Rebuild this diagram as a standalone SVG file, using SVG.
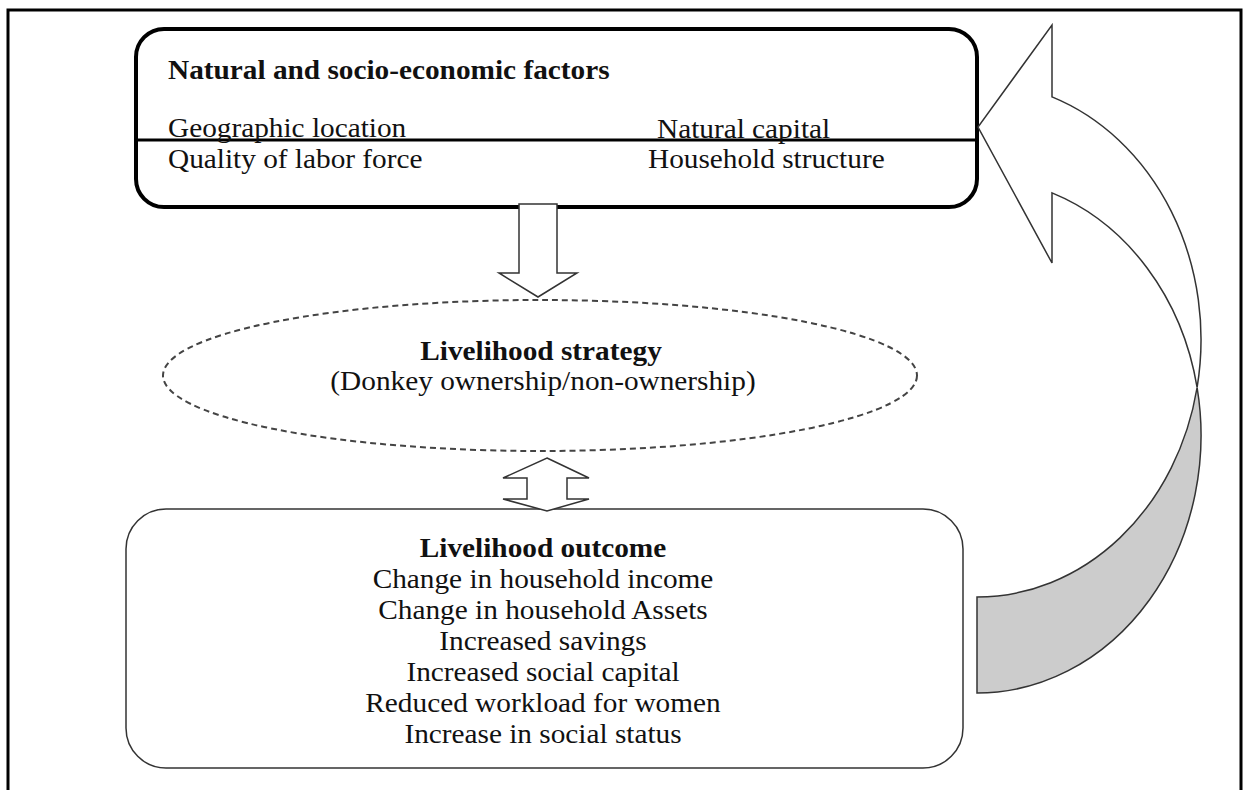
<svg xmlns="http://www.w3.org/2000/svg" width="1244" height="790" viewBox="0 0 1244 790">
<style>
  .t { font-family: "Liberation Serif", "Times New Roman", serif; font-size: 27px; fill: #111; }
  .b { font-weight: bold; }
  .c { text-anchor: middle; }
  .blk { fill: #fff; stroke: #333; stroke-width: 1.5; stroke-linejoin: miter; }
</style>
<rect x="0" y="0" width="1244" height="790" fill="#fff"/>
<path id="frame" d="M8,790 V10 H1241 V790" fill="none" stroke="#000" stroke-width="3"/>

<g id="factors">
  <rect x="136" y="29" width="841" height="178" rx="28" ry="28" fill="#fff" stroke="#000" stroke-width="4"/>
  <line x1="136" y1="140" x2="977" y2="140" stroke="#000" stroke-width="3"/>
  <text class="t b" transform="translate(168,79) scale(1.085,1)">Natural and socio-economic factors</text>
  <text class="t" transform="translate(168,137) scale(1.085,1)">Geographic location</text>
  <text class="t" transform="translate(657,138) scale(1.085,1)">Natural capital</text>
  <text class="t" transform="translate(168,168) scale(1.085,1)">Quality of labor force</text>
  <text class="t" transform="translate(648,168) scale(1.085,1)">Household structure</text>
</g>

<g id="strategy">
  <ellipse cx="540" cy="375.5" rx="377" ry="75.5" fill="none" stroke="#444" stroke-width="2" stroke-dasharray="6 4"/>
  <text class="t b c" transform="translate(541,360) scale(1.085,1)">Livelihood strategy</text>
  <text class="t c" transform="translate(543,390) scale(1.085,1)">(Donkey ownership/non-ownership)</text>
</g>

<g id="outcome">
  <rect x="126" y="509" width="837" height="259" rx="40" ry="40" fill="#fff" stroke="#333" stroke-width="1.5"/>
  <text class="t b c" transform="translate(543,557) scale(1.085,1)">Livelihood outcome</text>
  <text class="t c" transform="translate(543,588) scale(1.085,1)">Change in household income</text>
  <text class="t c" transform="translate(543,619) scale(1.085,1)">Change in household Assets</text>
  <text class="t c" transform="translate(543,650) scale(1.085,1)">Increased savings</text>
  <text class="t c" transform="translate(543,681) scale(1.085,1)">Increased social capital</text>
  <text class="t c" transform="translate(543,712) scale(1.085,1)">Reduced workload for women</text>
  <text class="t c" transform="translate(543,743) scale(1.085,1)">Increase in social status</text>
</g>

<g id="connectors">
  <path class="blk" d="M519,204 H557 V273 H577 L538,297 L499,273 H519 Z"/>
  <path class="blk" d="M547,458 L589,478 H567 V499 H589 L547,511 L503,499 H527 V478 H503 Z"/>
  <g id="feedback-arrow">
    <path d="M1197.1,387.5 A224,257.5 0 0 1 977,693 L977,597 A224,257.5 0 0 0 1197.1,387.5 Z" fill="#cccccc" stroke="#333" stroke-width="1.5"/>
    <path d="M1052,96.9 L1052,25 L978,127 L1052,263 L1052,192.9 A224,257.5 0 0 1 1197.1,387.5 A224,257.5 0 0 0 1052,96.9 Z" fill="#fff" stroke="#333" stroke-width="1.5" stroke-linejoin="miter"/>
  </g>
</g>
</svg>
